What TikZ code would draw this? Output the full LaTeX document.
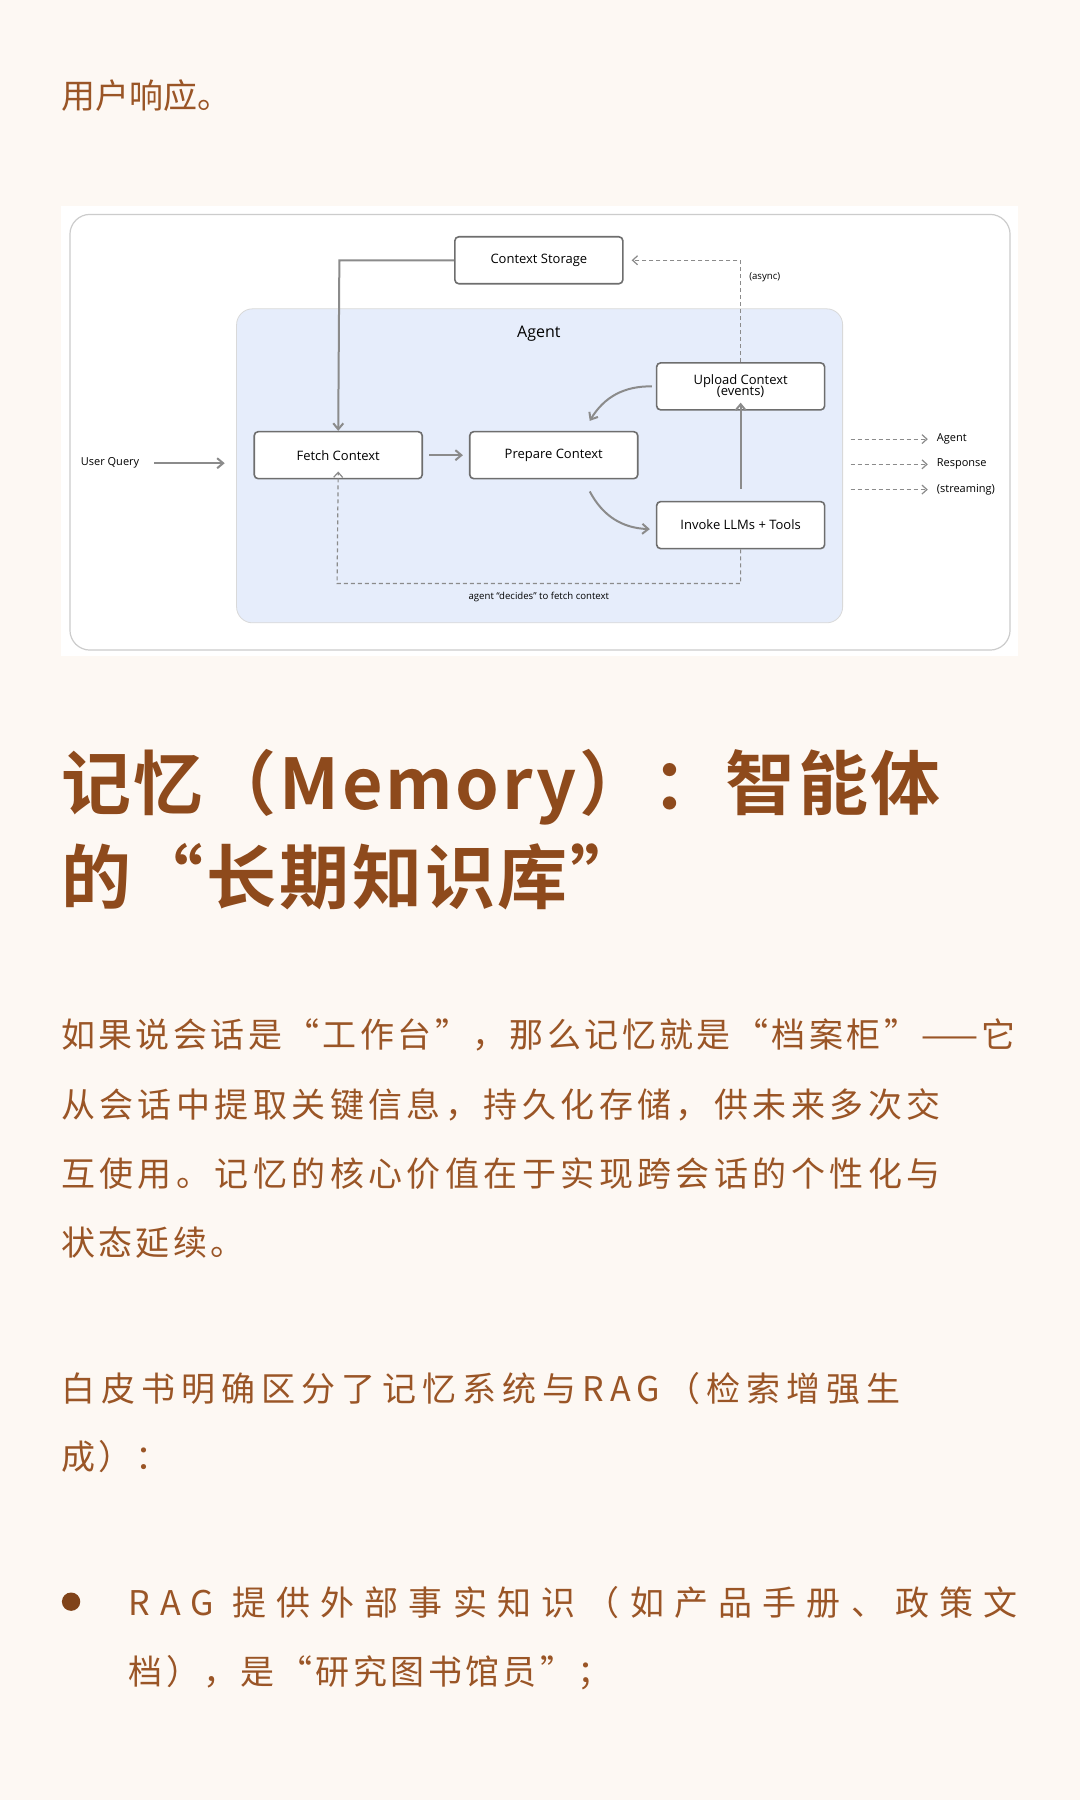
\documentclass[tikz,border=0pt]{standalone}
\usepackage{fontspec}
\setmainfont{Open Sans}
\newfontfamily\cjk{Noto Sans CJK SC}
\newfontfamily\cjkb{Noto Sans CJK SC Bold}
\usetikzlibrary{arrows.meta}
\definecolor{bgc}{HTML}{FDF8F3}
\definecolor{brown}{HTML}{8E4A1C}
\definecolor{txt}{HTML}{9A5526}
\definecolor{agentbg}{HTML}{E6EDFB}
\definecolor{ln}{HTML}{6E6E6E}
\newcommand\ls[1]{\addfontfeatures{LetterSpace=#1}}
\begin{document}
\begin{tikzpicture}[x=0.5732pt,y=-0.5732pt,
  box/.style={draw=ln,line width=0.8pt,fill=white,rounded corners=2pt,minimum width=84pt,minimum height=23.5pt,font=\fontsize{6.5}{7.5}\selectfont,align=center,inner sep=1pt},
  arr/.style={draw=ln!80,line width=1pt,-{Straight Barb[length=3pt,width=5pt]}},
  dsh/.style={draw=ln!80,line width=0.6pt,dash pattern=on 2pt off 1.5pt},
  lbl/.style={font=\fontsize{5.5}{6.5}\selectfont},
  body/.style={anchor=base west,inner sep=0pt,text=txt,font=\cjk\fontsize{17}{20}\selectfont},
  head/.style={anchor=base west,inner sep=0pt,text=brown,font=\cjkb\fontsize{35}{40}\selectfont\ls{4}}]
\fill[bgc] (0,0) rectangle (942,1570);
\useasboundingbox (0,0) rectangle (942,1570);
\node[body] (t0) at (53,95) {用户响应。};
% diagram
\fill[white] (53,180) rectangle (888,572);
\draw[gray!40,line width=0.6pt,rounded corners=10pt] (61,187) rectangle (881,567);
\node[draw=gray!30,fill=agentbg,rounded corners=8pt,minimum width=303pt,minimum height=157pt,anchor=north west] (agent) at (206,269) {};
\node[font=\fontsize{8}{9}\selectfont] (agentl) at (470,291) {Agent};
\node[box] (cs) at (470,227) {Context Storage};
\node[box] (up) at (646,337) {Upload Context\\[-2pt](events)};
\node[box] (fc) at (295,397) {Fetch Context};
\node[box] (pc) at (483,397) {Prepare Context};
\node[box] (inv) at (646,458) {Invoke LLMs + Tools};
\node[lbl] (uq) at (96,404) {User Query};
\coordinate (uqe) at (196,404);
\draw[arr] ([xshift=4pt]uq.east) -- (uqe);
\draw[arr] (cs.west) -- (296,227) -- (fc.north);
\draw[arr] ([xshift=3pt]fc.east) -- ([xshift=-3pt]pc.west);
\draw[arr] ([yshift=6pt]inv.north) -- ([yshift=4pt]up.south);
\draw[arr] ([xshift=-2pt]up.west) to[bend right=30] ([xshift=18pt,yshift=5pt]pc.north);
\draw[arr] ([xshift=18pt,yshift=-6pt]pc.south) to[bend right=30] ([xshift=-3pt,yshift=-2pt]inv.west);
\draw[dsh,-{Straight Barb[length=2.5pt,width=4.5pt]}] (up.north) -- (646,227) -- ([xshift=4pt]cs.east);
\node[lbl,font=\fontsize{4.8}{5}\selectfont] (async) at (667,242) {(async)};
\draw[dsh,-{Straight Barb[length=2.5pt,width=4.5pt]}] (inv.south) -- (646,509) -- (294,509) -- ([yshift=4pt]fc.south);
\node[lbl,font=\fontsize{4.8}{5}\selectfont] (dec) at (470,521) {agent “decides” to fetch context};
\foreach \y/\t/\n in {383/Agent/ra,405/Response/rb,427/(streaming)/rc}{
  \node[lbl,anchor=west] (\n) at (811,\y) {\t};
  \coordinate (\n s) at (742,\y);
  \draw[dsh,-{Straight Barb[length=2.5pt,width=4.5pt]}] (\n s) -- ([xshift=-1pt]\n.west);
}
% heading
\node[head] (h1) at (53,706) {记忆（Memory）：智能体};
\node[head] (h2) at (53,788) {的“长期知识库”};
% paragraph
\node[body] (p1) at (53,914) {\ls{10}如果说会话是“工作台”，那么记忆就是“档案柜”——它};
\node[body] (p2) at (53,975) {\ls{13}从会话中提取关键信息，持久化存储，供未来多次交};
\node[body] (p3) at (53,1035) {\ls{13}互使用。记忆的核心价值在于实现跨会话的个性化与};
\node[body] (p4) at (53,1095) {\ls{10}状态延续。};
\node[body] (p5) at (53,1222) {\ls{18}白皮书明确区分了记忆系统与RAG（检索增强生};
\node[body] (p6) at (53,1282) {\ls{10}成）：};
\fill[brown!90!black] (62,1397) circle (8);
\node[body] (b1) at (112,1409) {\ls{30}RAG 提供外部事实知识（如产品手册、政策文};
\node[body] (b2) at (112,1469) {\ls{10}档），是“研究图书馆员”；};
\end{tikzpicture}
\end{document}
